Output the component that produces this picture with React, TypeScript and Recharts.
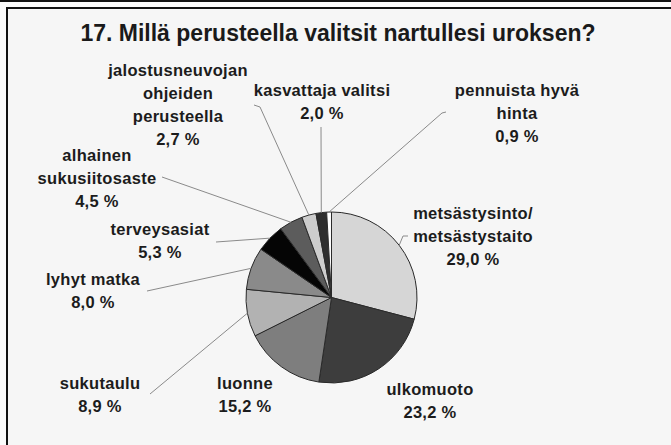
import { PieChart, Pie, Cell } from "recharts";

const categories = [
  "metsästysinto/\nmetsästystaito",
  "ulkomuoto",
  "luonne",
  "sukutaulu",
  "lyhyt matka",
  "terveysasiat",
  "alhainen\nsukusiitosaste",
  "jalostusneuvojan\nohjeiden\nperusteella",
  "kasvattaja valitsi",
  "pennuista hyvä\nhinta",
];
const shares = [29.0, 23.2, 15.2, 8.9, 8.0, 5.3, 4.5, 2.7, 2.0, 0.9];

const sliceColors = [
  "#d6d6d6",
  "#3d3d3d",
  "#7e7e7e",
  "#b2b2b2",
  "#8a8a8a",
  "#050505",
  "#5c5c5c",
  "#cdcdcd",
  "#2e2e2e",
  "#ffffff",
];

// where each label sits, and where its leader line ends (if any)
const labelLayout: { x: number; y: number; line?: [number, number][] }[] = [
  { x: 473, y: 213, line: [[403, 236], [408, 236]] },
  { x: 430, y: 389 },
  { x: 245, y: 383 },
  { x: 100, y: 383, line: [[150, 394]] },
  { x: 93, y: 279, line: [[147, 291]] },
  { x: 160, y: 229, line: [[216, 242]] },
  { x: 97, y: 155, line: [[162, 177]] },
  { x: 178, y: 70, line: [[260, 107], [254, 105]] },
  { x: 322, y: 90, line: [[321, 127]] },
  { x: 517, y: 90, line: [[442, 113], [446, 112]] },
];

const data = categories.map((name, i) => ({ name, value: shares[i] }));

const RADIAN = Math.PI / 180;
const LINE_H = 23;

function renderLabel(props: any) {
  const { cx, cy, midAngle, outerRadius, index } = props;
  const lay = labelLayout[index];
  const ex = cx + outerRadius * Math.cos(-midAngle * RADIAN);
  const ey = cy + outerRadius * Math.sin(-midAngle * RADIAN);
  const lines = [
    ...categories[index].split("\n"),
    `${shares[index].toFixed(1).replace(".", ",")} %`,
  ];
  const pts = lay.line ? [[ex, ey], ...lay.line] : null;
  return (
    <g key={`lbl-${index}`}>
      {pts && (
        <polyline
          points={pts.map((p) => p.join(",")).join(" ")}
          fill="none"
          stroke="#8a8a8a"
          strokeWidth={1}
        />
      )}
      {lines.map((t, k) => (
        <text
          key={k}
          x={lay.x}
          y={lay.y + k * LINE_H}
          textAnchor="middle"
          dominantBaseline="central"
          fontFamily="'Liberation Sans', Arial, sans-serif"
          fontWeight="bold"
          fontSize={16.5}
          letterSpacing={0.3}
          fill="#1c1c1c"
        >
          {t}
        </text>
      ))}
    </g>
  );
}

export default function App() {
  return (
    <div
      style={{
        position: "relative",
        width: 671,
        height: 445,
        overflow: "hidden",
        background: "#fbfbfb",
      }}
    >
      <style>{"body{margin:0}"}</style>
      <div
        style={{
          position: "absolute",
          left: 0,
          top: 0,
          width: 671,
          height: 2,
          background: "#111",
        }}
      />
      <div
        style={{
          position: "absolute",
          left: 6,
          top: 7,
          width: 700,
          height: 500,
          borderLeft: "2px solid #111",
          borderTop: "2px solid #111",
          background: "#f6f6f6",
        }}
      />
      <div
        style={{
          position: "absolute",
          left: 0,
          top: 20,
          width: 676,
          textAlign: "center",
          fontFamily: "'Liberation Sans', Arial, sans-serif",
          fontWeight: "bold",
          fontSize: 23,
          lineHeight: "26px",
          color: "#1a1a1a",
        }}
      >
        17. Millä perusteella valitsit nartullesi uroksen?
      </div>
      <div style={{ position: "absolute", left: 0, top: 0 }}>
        <PieChart width={671} height={445} margin={{ top: 0, right: 0, bottom: 0, left: 0 }}>
          <Pie
            data={data}
            dataKey="value"
            nameKey="name"
            cx={331.5}
            cy={297.5}
            outerRadius={85.5}
            startAngle={90}
            endAngle={-270}
            stroke="#2a2a2a"
            strokeWidth={1}
            label={renderLabel}
            labelLine={false}
            isAnimationActive={false}
          >
            {data.map((d, i) => (
              <Cell key={d.name} fill={sliceColors[i]} />
            ))}
          </Pie>
        </PieChart>
      </div>
    </div>
  );
}
